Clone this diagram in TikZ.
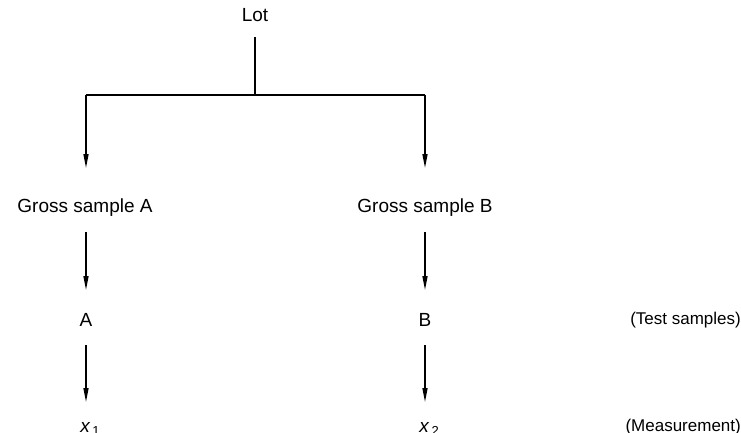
\documentclass[tikz,border=0pt]{standalone}
\usepackage{fontspec}
\setmainfont{Liberation Sans}
\usetikzlibrary{arrows.meta}
\begin{document}
\begin{tikzpicture}[x=1pt,y=-1pt,
  lbl/.style={inner sep=0pt,font=\fontsize{19}{21}\selectfont},
  side/.style={inner sep=0pt,font=\fontsize{17}{19}\selectfont},
  conn/.style={line width=1.5pt},
  arr/.style={conn,-{Triangle[length=14pt,width=5pt]}}]
\useasboundingbox (0,0) rectangle (741,432);
\node[lbl] (lot) at (255,15) {Lot};
\node[lbl] (ga) at (85,208) {Gross sample A};
\node[lbl] (gb) at (425,208) {Gross sample B};
\node[lbl] (a) at (86,320) {A};
\node[lbl] (b) at (425,320) {B};
\node[side,anchor=east] (ts) at (741,320) {(Test samples)};
\node[lbl,anchor=base] (x1) at (90,432) {\itshape x\/\raisebox{-3pt}{\fontsize{13}{14}\selectfont\upshape\,1}};
\node[lbl,anchor=base] (x2) at (429,432) {\itshape x\/\raisebox{-3pt}{\fontsize{13}{14}\selectfont\upshape\,2}};
\node[side,anchor=base east] (ms) at (741,431) {(Measurement)};
\coordinate (top) at (255,37);
\coordinate (jn) at (255,95);
\coordinate (la) at (86,95);
\coordinate (rb) at (425,95);
\coordinate (ea) at (86,168);
\coordinate (eb) at (425,168);
\coordinate (sa) at (86,232);
\coordinate (sb) at (425,232);
\coordinate (ta) at (86,290);
\coordinate (tb) at (425,290);
\coordinate (ua) at (86,345);
\coordinate (ub) at (425,345);
\coordinate (va) at (86,402);
\coordinate (vb) at (425,402);
\draw[conn] (top) -- (jn);
\draw[conn] (la) -- (rb);
\draw[arr] (la) -- (ea);
\draw[arr] (rb) -- (eb);
\draw[arr] (sa) -- (ta);
\draw[arr] (sb) -- (tb);
\draw[arr] (ua) -- (va);
\draw[arr] (ub) -- (vb);
\end{tikzpicture}
\end{document}
